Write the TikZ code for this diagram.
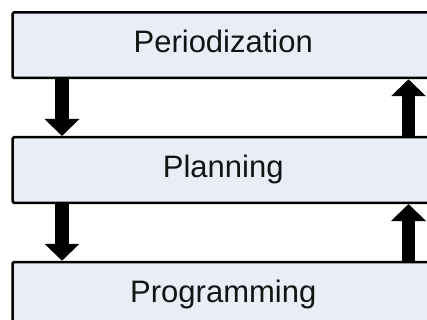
\documentclass[tikz,border=0pt]{standalone}
\usepackage{fontspec}
\setmainfont{Liberation Sans}
\usetikzlibrary{arrows.meta}
\definecolor{boxfill}{RGB}{233,237,246}
\definecolor{textdark}{RGB}{20,20,20}
\begin{document}
\begin{tikzpicture}[x=1pt,y=-1pt,
  stage/.style={draw=black, line width=2.5pt, fill=boxfill, rounded corners=1.5pt,
    minimum width=421.5pt, minimum height=65.5pt, inner sep=0pt,
    font=\fontsize{31}{37}\selectfont, text=textdark,
    text height=22pt, text depth=7pt},
  bigarrow/.style={line width=14pt, -{Triangle[width=34pt,length=17pt]}}]
\useasboundingbox (0,0) rectangle (427,320);
\node[stage] (per)  at (223.25,45.25)  {Periodization};
\node[stage] (plan) at (223.25,170)    {Planning};
\node[stage] (prog) at (223.25,294.75) {Programming};
\coordinate (xl) at (62,0);
\coordinate (xr) at (408.5,0);
\draw[bigarrow] (per.south -| xl) -- (plan.north -| xl);
\draw[bigarrow] (plan.south -| xl) -- (prog.north -| xl);
\draw[bigarrow, line width=13pt] (plan.north -| xr) -- (per.south -| xr);
\draw[bigarrow, line width=13pt] (prog.north -| xr) -- (plan.south -| xr);
\end{tikzpicture}
\end{document}
